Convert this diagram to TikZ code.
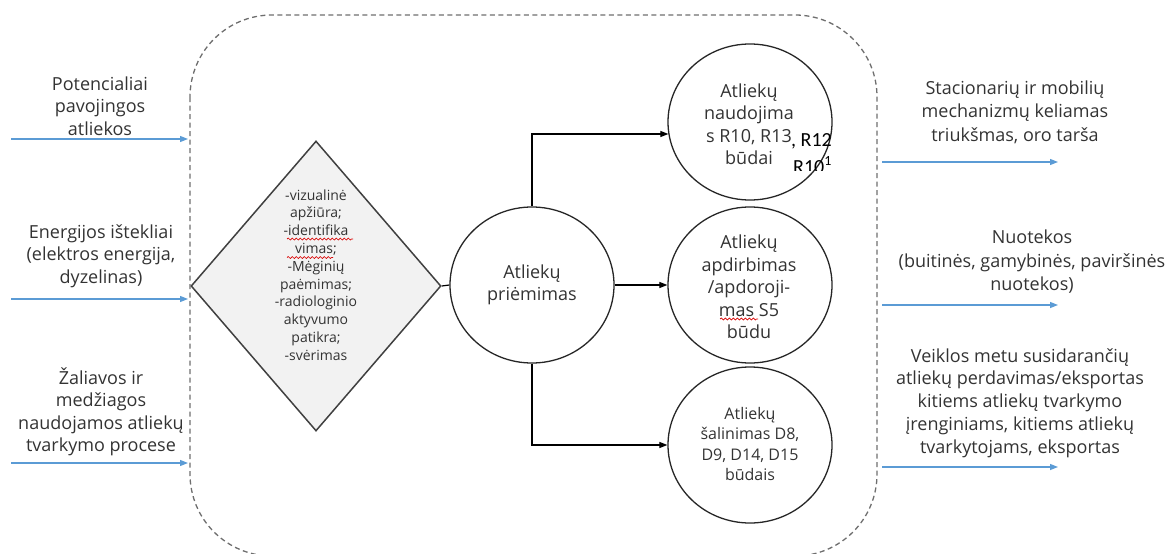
\documentclass[tikz,border=0pt]{standalone}
\usepackage{fontspec}
\setmainfont{Open Sans}
\newfontfamily\calib{Carlito}
\usetikzlibrary{shapes.geometric,arrows.meta,calc,decorations.pathmorphing}
\definecolor{txt}{HTML}{333333}
\definecolor{flow}{HTML}{5B9BD5}
\definecolor{framec}{HTML}{6E6E6E}
\definecolor{dfill}{HTML}{F2F2F2}
\begin{document}
\begin{tikzpicture}[x=1pt,y=-1pt,
  lbl/.style={align=center, text=txt, inner sep=0pt},
  big/.style={font=\fontsize{18}{22.5}\selectfont},
  oval/.style={ellipse, draw=black!85, line width=1.3pt, minimum width=164pt, minimum height=156pt, inner sep=0pt},
  conn/.style={draw=black, line width=1.2pt, -{Triangle[length=8pt,width=6pt]}},
  flowarrow/.style={draw=flow, line width=1.3pt, -{Triangle[length=8pt,width=6pt]}},
  squig/.style={draw=red!85!black, line width=0.7pt, decorate, decoration={snake, segment length=4pt, amplitude=1pt}}
]
\useasboundingbox (0,0) rectangle (1167,554);
\clip (0,0) rectangle (1167,554);

% dashed frame
\draw[framec, line width=1.3pt, dash pattern=on 5pt off 3.5pt, rounded corners=82pt] (190,15) rectangle (877,556);

% left inputs
\node[lbl,big] (in1) at (100,106) {Potencialiai\\pavojingos\\atliekos};
\node[lbl,big] (in2) at (101,256) {Energijos ištekliai\\(elektros energija,\\dyzelinas)};
\node[lbl,big] (in3) at (101,412) {Žaliavos ir\\medžiagos\\naudojamos atliekų\\tvarkymo procese};
\coordinate (a1s) at (11,139); \coordinate (a1e) at (188,139);
\coordinate (a2s) at (11,299); \coordinate (a2e) at (188,299);
\coordinate (a3s) at (11,463); \coordinate (a3e) at (188,463);
\draw[flowarrow] (a1s) -- (a1e);
\draw[flowarrow] (a2s) -- (a2e);
\draw[flowarrow] (a3s) -- (a3e);

% diamond
\node[diamond, draw=black!75, fill=dfill, line width=1.5pt, minimum width=250pt, minimum height=290pt, inner sep=0pt] (chk) at (316,286) {};
\node[lbl, font=\fontsize{14}{17.8}\selectfont] (chktxt) at (316,275) {-vizualinė\\apžiūra;\\-identifika\\vimas;\\-Mėginių\\paėmimas;\\-radiologinio\\aktyvumo\\patikra;\\-svėrimas};
\draw[squig] (287,239) -- (353,239);
\draw[squig] (287,257.5) -- (333,257.5);

% reception
\node[oval] (recv) at (532,285) {};
\node[lbl,big] (recvtxt) at (532,285) {Atliekų\\priėmimas};
\draw[line width=1.2pt] (chk.east) -- (recv.west);

% right ovals
\node[oval] (topc) at (750,122) {};
\node[lbl,big] (toptxt) at (749,124) {Atliekų\\naudojima\\s R10, R13\\būdai};
\node[inner sep=0pt, font=\calib\fontsize{20}{24}\selectfont, anchor=west] (r12) at (791,141) {, R12};
\begin{scope}
\clip (785,150) rectangle (840,170);
\node[inner sep=0pt, font=\calib\fontsize{20}{24}\selectfont, anchor=west] (r10) at (793,165) {R10\textsuperscript{1}};
\end{scope}

\node[oval] (midc) at (750,285) {};
\node[lbl,big] (midtxt) at (749,287) {Atliekų\\apdirbimas\\/apdoroji-\\mas S5\\būdu};
\draw[squig] (720,319) -- (758,319);

\node[oval] (botc) at (750,445) {};
\node[lbl, font=\fontsize{16}{20.5}\selectfont] (bottxt) at (750,444) {Atliekų\\šalinimas D8,\\D9, D14, D15\\būdais};

% branches
\draw[conn] (recv.north) |- ($(topc.west)+(1,12)$);
\draw[conn] (recv.east) -- (midc.west);
\draw[conn] (recv.south) |- (botc.west);

% right outputs
\node[lbl, font=\fontsize{18}{23.5}\selectfont] (out1) at (1015,112) {Stacionarių ir mobilių\\mechanizmų keliamas\\triukšmas, oro tarša};
\node[lbl, font=\fontsize{18}{23.5}\selectfont] (out2) at (1032,262) {Nuotekos\\(buitinės, gamybinės, paviršinės\\nuotekos)};
\node[lbl, font=\fontsize{18}{22.75}\selectfont] (out3) at (1020,403) {Veiklos metu susidarančių\\atliekų perdavimas/eksportas\\kitiems atliekų tvarkymo\\įrenginiams, kitiems atliekų\\tvarkytojams, eksportas};
\coordinate (b1s) at (882,162); \coordinate (b1e) at (1058,162);
\coordinate (b2s) at (882,305); \coordinate (b2e) at (1058,305);
\coordinate (b3s) at (882,467); \coordinate (b3e) at (1058,467);
\draw[flowarrow] (b1s) -- (b1e);
\draw[flowarrow] (b2s) -- (b2e);
\draw[flowarrow] (b3s) -- (b3e);
\end{tikzpicture}
\end{document}
